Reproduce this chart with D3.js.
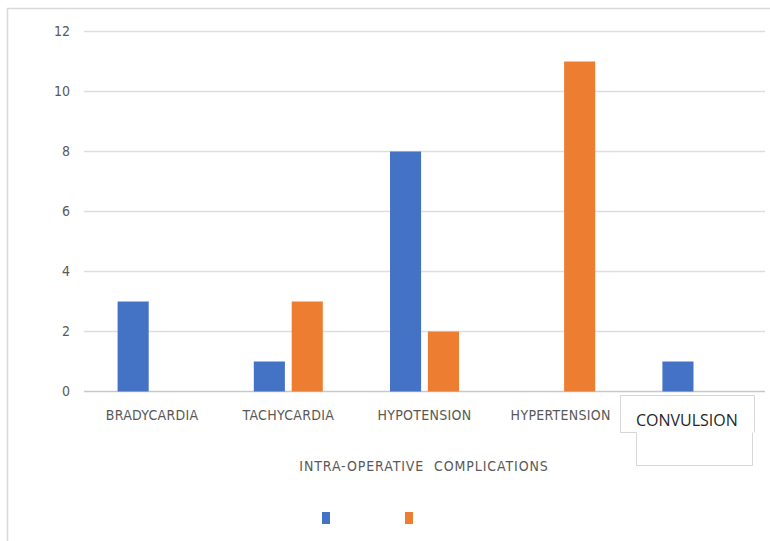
<!DOCTYPE html>
<html>
<head>
<meta charset="utf-8">
<script src="https://cdn.jsdelivr.net/npm/d3@7"></script>
<style>
  body { margin: 0; background: #fff; }
  svg { display: block; }
</style>
</head>
<body>
<div id="chart"></div>
<script>
// Data
const categories = ["BRADYCARDIA", "TACHYCARDIA", "HYPOTENSION", "HYPERTENSION", "CONVULSION"];
const seriesNames = ["Series 1", "Series 2"];
const series1 = [3, 1, 8, 0, 1];
const series2 = [0, 3, 2, 11, 0];
const yTicks = [0, 2, 4, 6, 8, 10, 12];
const axisTitle = "INTRA-OPERATIVE  COMPLICATIONS";

const colors = ["#4472c4", "#ed7d31"];
const labelFont = "'DejaVu Sans Condensed', 'DejaVu Sans', sans-serif";

const W = 770, H = 541;
const svg = d3.select("#chart").append("svg")
    .attr("width", W)
    .attr("height", H);

// chart frame (only top and left edges are visible in the crop)
svg.append("path")
    .attr("d", `M7.5,${H} V8.5 H${W}`)
    .attr("fill", "none")
    .attr("stroke", "#d9d9d9")
    .attr("stroke-width", 1.5);

const plot = { left: 84, right: 765, top: 31.5, bottom: 391.5 };

const x0 = d3.scaleBand()
    .domain(categories)
    .range([plot.left, plot.right]);

const x1 = d3.scaleBand()
    .domain(seriesNames)
    .range([x0.bandwidth() / 2 - 34.5, x0.bandwidth() / 2 + 34.5])
    .paddingInner(0.18);

const y = d3.scaleLinear()
    .domain([0, 12])
    .range([plot.bottom, plot.top]);

// gridlines
svg.append("g")
    .selectAll("line")
    .data(yTicks)
    .join("line")
    .attr("x1", plot.left)
    .attr("x2", plot.right)
    .attr("y1", d => y(d))
    .attr("y2", d => y(d))
    .attr("stroke", d => d === 0 ? "#c8c8c8" : "#dedede")
    .attr("stroke-width", 1.5);

// y axis labels
const yAxis = d3.axisLeft(y).tickValues(yTicks).tickSize(0).tickPadding(0);
svg.append("g")
    .attr("transform", `translate(70,0)`)
    .call(yAxis)
    .call(g => g.select(".domain").remove())
    .selectAll("text")
    .attr("fill", "#595959")
    .style("font-family", labelFont)
    .style("font-size", "14px");

// bars
const rows = categories.map((c, i) => ({ cat: c, values: [series1[i], series2[i]] }));
const groups = svg.append("g")
    .selectAll("g")
    .data(rows)
    .join("g")
    .attr("transform", d => `translate(${x0(d.cat)},0)`);

groups.selectAll("rect")
    .data(d => d.values.map((v, j) => ({ name: seriesNames[j], value: v, j })))
    .join("rect")
    .attr("x", d => x1(d.name))
    .attr("width", x1.bandwidth())
    .attr("y", d => y(d.value))
    .attr("height", d => y(0) - y(d.value))
    .attr("fill", d => colors[d.j]);

// category labels
const xAxis = d3.axisBottom(x0).tickSize(0).tickPadding(0);
const xg = svg.append("g")
    .attr("transform", `translate(0,${plot.bottom})`)
    .call(xAxis)
    .call(g => g.select(".domain").remove());
xg.selectAll("text")
    .attr("y", 24)
    .attr("dy", "0.35em")
    .attr("fill", "#595959")
    .style("font-family", labelFont)
    .style("font-size", "14px")
    .style("letter-spacing", "0.3px");

// the last label sits in a pasted text box
const last = categories[categories.length - 1];
xg.selectAll(".tick").filter(d => d === last).remove();

const boxX = x0(last) + x0.bandwidth() / 2;
svg.append("path")
    .attr("d", "M620.5,395.5 H754.5 V432.5 M752.5,432.5 V465.5 H636.5 V432.5 H620.5 V395.5")
    .attr("fill", "#fff")
    .attr("stroke", "#d6d6d6")
    .attr("stroke-width", 1);
svg.append("rect")
    .attr("x", 621).attr("y", 396).attr("width", 133).attr("height", 36)
    .attr("fill", "#fff");
svg.append("rect")
    .attr("x", 637).attr("y", 431).attr("width", 115).attr("height", 34)
    .attr("fill", "#fff");
svg.append("text")
    .attr("x", boxX - 10)
    .attr("y", 420)
    .attr("dy", "0.35em")
    .attr("text-anchor", "middle")
    .attr("fill", "#262626")
    .style("font-family", "'Open Sans', sans-serif")
    .style("font-size", "16px")
    .text(last);

// axis title
svg.append("text")
    .attr("x", 424)
    .attr("y", 466)
    .attr("dy", "0.35em")
    .attr("text-anchor", "middle")
    .attr("fill", "#595959")
    .style("font-family", labelFont)
    .style("font-size", "14px")
    .style("letter-spacing", "0.9px")
    .style("white-space", "pre")
    .text(axisTitle);

// legend (swatches only)
const legendX = [322, 405];
svg.append("g")
    .selectAll("rect")
    .data(seriesNames)
    .join("rect")
    .attr("x", (d, i) => legendX[i])
    .attr("y", 512)
    .attr("width", 8)
    .attr("height", 12)
    .attr("fill", (d, i) => colors[i]);
</script>
</body>
</html>
